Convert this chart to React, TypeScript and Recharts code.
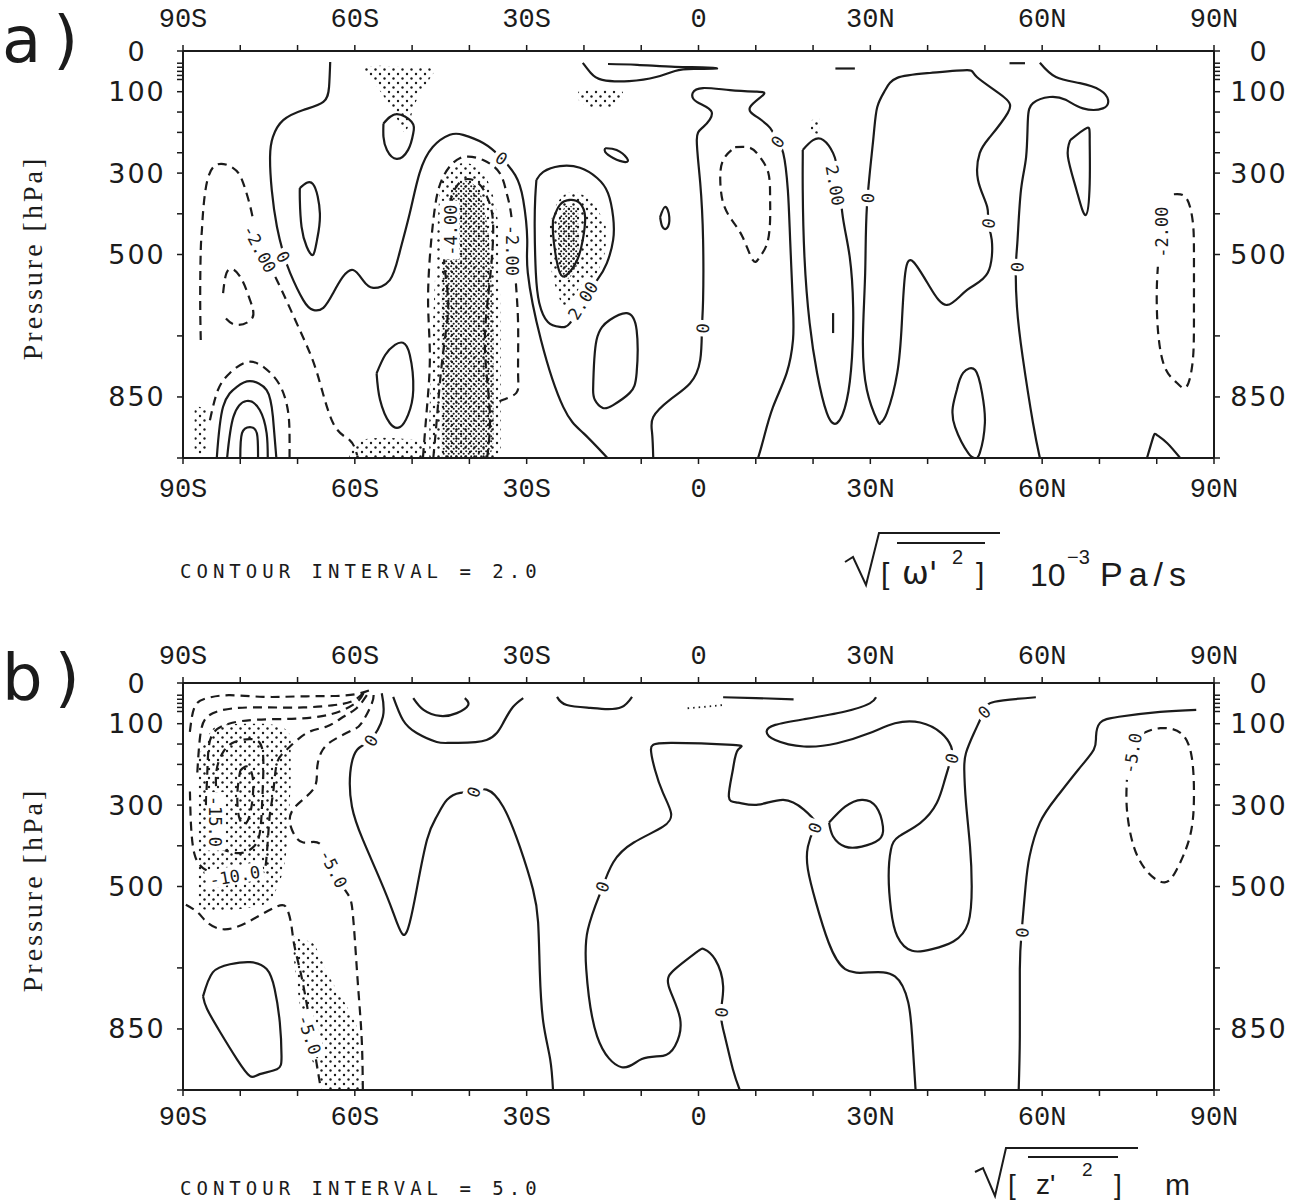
import React from "react";
import { ComposedChart, Line, Area, XAxis, YAxis, ReferenceDot } from "recharts";

// [latitude, pressure hPa]
type P = [number, number];
// [latitude, top pressure, bottom pressure]
type Band = [number, number, number];
type Lbl = { t: string; lat: number; p: number; rot: number };

const latTicks = [-90, -80, -70, -60, -50, -40, -30, -20, -10, 0, 10, 20, 30, 40, 50, 60, 70, 80, 90];
const latLabelValues = [-90, -60, -30, 0, 30, 60, 90];
const latLabelText = ["90S", "60S", "30S", "0", "30N", "60N", "90N"];
const pressureTicks = [0, 30, 40, 50, 60, 70, 100, 150, 200, 250, 300, 400, 500, 700, 850, 1000];
const pressureLabels = [0, 100, 300, 500, 850];

// ---------- panel a: sqrt([w'^2]) ----------
const omegaSolid: P[][] = [
  [[-64.3, 27], [-64.5, 88], [-65.5, 125], [-69.0, 145], [-72.5, 170], [-74.3, 211], [-74.8, 260], [-74.5, 342], [-73.6, 432], [-72.5, 496], [-71.3, 545], [-69.0, 612], [-67.3, 636], [-65.5, 631], [-63.8, 595], [-62.1, 555], [-60.3, 538], [-58.6, 563], [-56.8, 582], [-53.9, 563], [-52.2, 496], [-50.4, 398], [-48.7, 300], [-46.4, 236], [-43.4, 206], [-41.1, 206], [-37.6, 226], [-34.6, 260], [-32.0, 305], [-30.6, 366], [-29.9, 464], [-29.8, 545], [-27.5, 710], [-23.6, 875], [-20.1, 939], [-15.9, 1000]],
  [[-55.0, 178], [-52.7, 155], [-50.1, 174], [-49.8, 202], [-50.7, 243], [-52.7, 265], [-54.4, 243], [-55.0, 211], [-55.0, 178]],
  [[-69.6, 337], [-67.3, 327], [-66.1, 399], [-66.6, 464], [-67.3, 501], [-68.4, 481], [-69.3, 432], [-69.6, 366], [-69.6, 337]],
  [[-56.2, 792], [-54.7, 747], [-53.0, 722], [-51.6, 717], [-50.4, 747], [-49.8, 833], [-50.7, 894], [-52.1, 924], [-53.9, 914], [-55.6, 857], [-56.2, 792]],
  [[-84.1, 1000], [-83.0, 874], [-80.6, 825], [-78.3, 811], [-75.4, 833], [-74.3, 899], [-73.7, 1000]],
  [[-82.3, 1000], [-81.2, 899], [-78.9, 860], [-76.6, 882], [-75.4, 939], [-75.2, 1000]],
  [[-80.0, 1000], [-79.7, 939], [-78.3, 924], [-77.1, 939], [-76.9, 1000]],
  [[-28.3, 317], [-27.1, 297], [-24.2, 283], [-20.7, 287], [-17.7, 312], [-15.8, 349], [-14.9, 408], [-14.9, 464], [-16.0, 521], [-17.7, 563], [-20.2, 612], [-22.4, 668], [-24.2, 678], [-26.3, 666], [-27.8, 619], [-28.4, 545], [-28.6, 432], [-28.5, 359], [-28.3, 317]],
  [[-25.4, 415], [-24.2, 378], [-22.4, 366], [-20.7, 374], [-19.8, 408], [-20.2, 464], [-21.2, 514], [-23.0, 550], [-24.2, 545], [-25.0, 496], [-25.4, 447], [-25.4, 415]],
  [[-16.3, 239], [-14.3, 243], [-12.5, 263], [-12.8, 273], [-14.9, 263], [-16.3, 248], [-16.3, 239]],
  [[-6.7, 408], [-5.8, 383], [-5.1, 408], [-5.5, 435], [-6.3, 432], [-6.7, 408]],
  [[-18.4, 833], [-17.8, 710], [-15.5, 661], [-12.5, 644], [-10.8, 686], [-10.8, 791], [-12.0, 840], [-14.9, 870], [-16.7, 877], [-18.1, 857], [-18.4, 833]],
  [[-7.9, 1000], [-8.1, 939], [-7.9, 899], [-5.0, 857], [-1.5, 817], [0.3, 759], [0.6, 681], [0.8, 612], [0.8, 464], [0.3, 324], [-0.3, 219], [0.8, 187], [2.3, 150], [-0.3, 125], [-1.0, 103], [0.8, 91], [5.5, 96], [10.2, 100], [11.3, 108], [9.0, 138], [10.2, 162], [12.5, 189], [13.7, 219], [14.8, 251], [15.6, 342], [16.0, 464], [16.5, 629], [16.5, 710], [15.4, 791], [13.0, 875], [11.3, 956], [10.4, 1000]],
  [[-20.2, 29], [-18.8, 54], [-16.8, 71], [-12.1, 74], [-7.4, 64], [-4.1, 49], [-0.8, 44], [3.2, 43], [0.6, 40], [-4.1, 39], [-10.7, 34], [-15.8, 32]],
  [[23.9, 43], [27.3, 43]],
  [[54.3, 30], [57.0, 30]],
  [[18.2, 243], [20.0, 219], [21.8, 219], [23.5, 251], [24.4, 305], [25.2, 408], [26.4, 506], [27.0, 629], [26.8, 752], [25.9, 857], [24.2, 914], [22.4, 889], [20.7, 791], [19.4, 668], [18.5, 506], [18.2, 342], [18.2, 268], [18.2, 243]],
  [[23.5, 644], [23.5, 693]],
  [[31.7, 914], [31.2, 907], [29.4, 833], [28.7, 710], [29.1, 545], [29.4, 383], [30.5, 219], [31.2, 138], [32.6, 96], [34.7, 66], [40.4, 54], [46.9, 47], [48.6, 64], [53.3, 113], [54.0, 152], [50.9, 211], [49.1, 251], [48.8, 317], [50.4, 383], [50.5, 423], [51.2, 464], [50.5, 545], [46.9, 587], [43.4, 624], [40.4, 580], [37.5, 518], [36.1, 545], [35.5, 668], [34.7, 791], [32.9, 889], [31.7, 914]],
  [[59.6, 29], [62.4, 64], [66.6, 79], [70.1, 96], [71.5, 120], [70.6, 141], [67.1, 141], [64.1, 120], [61.3, 113], [58.4, 128], [57.5, 170], [57.2, 260], [56.3, 342], [55.7, 464], [55.4, 531], [55.6, 629], [56.6, 752], [58.4, 914], [59.6, 1000]],
  [[64.9, 219], [67.8, 189], [68.3, 219], [68.3, 325], [67.6, 403], [66.0, 342], [64.5, 260], [64.9, 219]],
  [[45.1, 833], [46.2, 791], [48.3, 784], [49.5, 840], [50.0, 914], [49.1, 988], [48.3, 1000], [47.1, 988], [44.8, 924], [44.4, 875], [45.1, 833]],
  [[78.3, 1000], [79.4, 948], [80.0, 943], [81.8, 963], [84.1, 1000]],
];

const omegaDashed: P[][] = [
  [[-86.9, 710], [-87.0, 604], [-86.9, 489], [-86.7, 440], [-86.3, 366], [-84.7, 285], [-81.3, 287], [-79.5, 324], [-78.0, 398], [-77.1, 464], [-75.7, 509], [-73.6, 563], [-69.6, 686], [-66.6, 791], [-63.8, 914], [-60.9, 956], [-59.6, 993]],
  [[-83.0, 595], [-82.1, 538], [-80.0, 555], [-78.3, 612], [-77.9, 656], [-80.6, 673], [-82.7, 654]],
  [[-85.3, 907], [-83.9, 833], [-81.8, 791], [-78.7, 764], [-75.7, 779], [-73.1, 821], [-71.7, 882], [-71.4, 943], [-71.4, 1000]],
  [[-48.1, 998], [-47.4, 875], [-46.9, 752], [-47.2, 629], [-46.9, 506], [-46.0, 383], [-44.6, 310], [-41.6, 263], [-37.6, 268], [-34.7, 300], [-33.5, 349], [-32.6, 415], [-32.0, 545], [-31.5, 668], [-31.5, 791], [-31.8, 840], [-34.1, 857], [-35.2, 865]],
  [[-46.3, 1000], [-45.7, 907], [-45.1, 808], [-44.3, 710], [-43.7, 612], [-44.4, 514], [-43.9, 415], [-43.0, 354], [-41.1, 317], [-38.5, 324], [-36.9, 359], [-35.9, 415], [-36.1, 514], [-36.8, 612], [-37.3, 710], [-36.9, 808], [-36.4, 907], [-36.9, 1000]],
  [[6.4, 236], [9.0, 238], [10.7, 260], [12.2, 300], [12.5, 359], [12.5, 415], [12.0, 472], [10.7, 506], [9.5, 514], [7.7, 457], [5.8, 415], [4.3, 373], [3.8, 317], [4.3, 268], [6.4, 236]],
  [[83.0, 352], [85.2, 362], [86.3, 420], [86.5, 500], [86.5, 650], [86.3, 760], [85.2, 825], [83.5, 815], [81.5, 780], [80.3, 700], [80.0, 600], [80.2, 530]],
];

const omegaSparse: Band[][] = [
  [[-58.5, 38, 48], [-55.5, 36, 100], [-52.5, 38, 170], [-51.3, 40, 200], [-49.5, 40, 130], [-47, 42, 70], [-46.3, 45, 55]],
  [[-47, 900, 1000], [-46, 560, 1000], [-45, 330, 1000], [-43.5, 290, 1000], [-41, 275, 1000], [-38.5, 285, 1000], [-36.5, 330, 1000], [-35, 420, 1000], [-34.5, 700, 980]],
  [[-61, 985, 1000], [-59, 955, 1000], [-55, 950, 1000], [-50, 955, 1000], [-47.5, 960, 1000]],
  [[-26, 430, 520], [-24.5, 370, 600], [-22, 345, 650], [-20, 355, 625], [-18, 380, 560], [-16.2, 430, 490]],
  [[-21, 100, 120], [-19, 96, 138], [-16, 96, 140], [-13.2, 100, 118]],
  [[19.6, 170, 200], [21.2, 165, 205]],
  [[-88, 870, 990], [-86, 880, 990]],
];

const omegaDense: Band[][] = [
  [[-44.8, 560, 1000], [-43.8, 380, 1000], [-42.5, 330, 1000], [-40.5, 320, 1000], [-38.5, 340, 1000], [-37.2, 400, 1000], [-36.3, 520, 990], [-35.8, 700, 960]],
  [[-24.5, 420, 520], [-23, 380, 560], [-21, 385, 520]],
];

const omegaLabels: Lbl[] = [
  { t: "-2.00", lat: -76.5, p: 485, rot: 62 },
  { t: "0", lat: -72.4, p: 505, rot: 60 },
  { t: "0", lat: -34.3, p: 262, rot: 35 },
  { t: "-4.00", lat: -43.3, p: 440, rot: -90 },
  { t: "-2.00", lat: -32.3, p: 490, rot: 90 },
  { t: "2.00", lat: -20.3, p: 612, rot: -58 },
  { t: "0", lat: 0.6, p: 681, rot: -85 },
  { t: "0", lat: 13.7, p: 222, rot: -55 },
  { t: "2.00", lat: 24.0, p: 330, rot: 80 },
  { t: "0", lat: 29.4, p: 361, rot: -85 },
  { t: "0", lat: 50.5, p: 423, rot: -80 },
  { t: "0", lat: 55.5, p: 531, rot: -85 },
  { t: "-2.00", lat: 80.8, p: 445, rot: -90 },
];

// ---------- panel b: sqrt([z'^2]) ----------
const zSolid: P[][] = [
  [[-86.5, 770], [-84.8, 711], [-81.8, 691], [-78.3, 686], [-75.4, 703], [-74.0, 752], [-73.1, 834], [-72.8, 917], [-73.6, 949], [-76.6, 961], [-78.3, 966], [-80.6, 924], [-83.5, 858], [-85.8, 801], [-86.5, 770]],
  [[-55.3, 25], [-55.1, 83], [-57.3, 140], [-59.6, 164], [-60.8, 221], [-60.5, 304], [-58.6, 385], [-55.6, 483], [-53.3, 564], [-51.6, 618], [-50.4, 588], [-49.2, 507], [-47.4, 385], [-45.7, 328], [-43.9, 287], [-41.6, 270], [-39.4, 267], [-37.0, 262], [-34.1, 304], [-31.2, 402], [-28.9, 507], [-28.0, 588], [-27.7, 711], [-27.1, 833], [-25.9, 924], [-25.4, 1000]],
  [[-53.3, 34], [-51.6, 91], [-49.2, 123], [-45.7, 145], [-42.8, 147], [-37.0, 140], [-34.1, 98], [-32.4, 59], [-30.6, 37]],
  [[-49.8, 37], [-48.0, 66], [-45.1, 81], [-42.2, 74], [-40.2, 54], [-40.8, 37]],
  [[-24.7, 34], [-23.0, 54], [-18.9, 61], [-16.3, 64], [-13.4, 59], [-11.6, 34]],
  [[4.3, 35], [10, 37], [16.6, 40]],
  [[31.0, 35], [29.9, 50], [25.6, 70], [18.4, 89], [13.4, 103], [11.9, 119], [13.4, 140], [18.4, 156], [24.2, 148], [29.9, 123], [34.3, 99], [38.7, 97], [42.4, 123], [44.1, 156], [44.1, 185], [43.0, 238], [41.6, 295], [38.7, 344], [35.0, 377], [33.6, 409], [33.2, 474], [33.6, 556], [34.7, 622], [37.3, 658], [40.8, 654], [44.5, 635], [47.1, 589], [47.7, 499], [47.4, 401], [46.7, 294], [46.4, 213], [46.7, 172], [48.1, 123], [49.8, 70], [51.7, 46], [58.9, 35]],
  [[22.8, 343], [25.6, 304], [28.5, 287], [31.0, 304], [32.2, 353], [31.5, 385], [28.5, 402], [25.6, 402], [23.5, 377], [22.8, 343]],
  [[7.2, 1000], [6.0, 949], [4.6, 868], [3.9, 809], [4.3, 745], [2.9, 679], [1.0, 654], [-0.4, 662], [-4.1, 703], [-5.2, 745], [-3.2, 826], [-4.1, 892], [-6.2, 916], [-9.9, 924], [-13.4, 944], [-17.7, 868], [-19.6, 703], [-19.3, 605], [-17.4, 525], [-16.7, 500], [-14.9, 441], [-11.3, 392], [-6.2, 353], [-4.8, 319], [-6.2, 270], [-7.6, 213], [-8.3, 164], [-7.9, 152], [-4.8, 147], [6.0, 152], [6.9, 164], [6.0, 213], [5.3, 279], [6.9, 294], [10.4, 299], [14.8, 287], [18.4, 311], [20.5, 343], [20.2, 360], [19.1, 402], [19.1, 458], [20.5, 539], [22.7, 637], [25.6, 703], [29.9, 711], [34.3, 721], [36.6, 784], [37.3, 868], [37.9, 1000]],
  [[86.9, 66], [80.6, 71], [73.4, 83], [70.1, 98], [69.4, 132], [69.0, 164], [66.3, 213], [62.6, 279], [59.6, 343], [57.8, 426], [57.1, 500], [56.4, 613], [56.1, 703], [56.1, 868], [55.9, 1000]],
];

const zDashed: P[][] = [
  [[77.7, 123], [80.6, 111], [84.2, 123], [86.1, 181], [86.5, 279], [85.8, 377], [83.5, 458], [81.4, 490], [78.5, 466], [76.0, 402], [74.8, 311], [74.8, 238]],
  [[-58.6, 1000], [-58.8, 875], [-59.4, 752], [-60.0, 630], [-60.5, 549], [-61.4, 515], [-63.8, 458], [-66.1, 395], [-69.0, 392], [-71.0, 360], [-70.8, 311], [-67.3, 262], [-66.6, 213], [-65.6, 164], [-63.1, 135], [-60.3, 115], [-58.8, 98], [-57.0, 49], [-56.8, 20]],
  [[-89.5, 545], [-87.4, 564], [-85.8, 588], [-83.0, 605], [-78.8, 588], [-73.6, 549], [-71.8, 556], [-71.1, 593], [-70.6, 642], [-69.6, 703], [-68.7, 765], [-67.8, 838], [-66.8, 924], [-65.9, 1000]],
  [[-88.8, 120], [-88, 60], [-86, 38], [-82, 30], [-76, 34], [-70, 33], [-64, 32], [-60, 28], [-57.5, 18]],
  [[-87.5, 220], [-87, 130], [-85.5, 80], [-81, 62], [-75, 60], [-69, 60], [-64, 55], [-60.5, 45], [-58.3, 22]],
  [[-86, 300], [-85.7, 200], [-85, 130], [-82, 100], [-77, 90], [-71, 88], [-66, 82], [-62.3, 68], [-59.5, 45], [-58.5, 25]],
  [[-57.9, 30], [-59.7, 62], [-62.0, 83], [-64.9, 107], [-68.4, 123], [-71.9, 164], [-73.6, 197], [-74.2, 262], [-74.8, 319], [-75.1, 368], [-75.4, 426], [-76.0, 466], [-78.5, 478], [-83.5, 470], [-86.5, 455], [-88, 420], [-88.6, 350], [-88.8, 260]],
  [[-84, 290], [-84.2, 220], [-83, 170], [-81, 145], [-78, 138], [-76.2, 160], [-76, 230], [-76.2, 300], [-76.5, 360], [-77.5, 400], [-80, 418], [-82.5, 412], [-83.8, 398], [-84.3, 350], [-84, 290]],
  [[-80, 215], [-78.8, 205], [-77.8, 235], [-78, 300], [-79, 345], [-80.2, 330], [-80.5, 270], [-80, 215]],
];

const zDotted: P[][] = [
  [[-1.9, 62], [1.5, 58], [4.3, 54]],
];

const zSparse: Band[][] = [
  [[-87.5, 190, 550], [-86, 140, 558], [-84, 105, 560], [-80, 100, 555], [-76, 100, 545], [-73.5, 105, 500], [-72, 115, 420], [-71.2, 130, 250]],
  [[-70.7, 622, 672], [-70.0, 628, 752], [-69.1, 632, 833], [-67.7, 635, 917], [-66.4, 660, 960], [-65.2, 700, 1000], [-62.9, 760, 1000], [-61.2, 800, 1000], [-59.4, 860, 1000], [-58.9, 930, 1000]],
];

const zLabels: Lbl[] = [
  { t: "0", lat: -57.3, p: 140, rot: -60 },
  { t: "0", lat: -39.4, p: 267, rot: -70 },
  { t: "-5.0", lat: -63.6, p: 455, rot: 63 },
  { t: "-15.0", lat: -84.2, p: 340, rot: 90 },
  { t: "-10.0", lat: -81.0, p: 472, rot: -10 },
  { t: "-5.0", lat: -67.8, p: 863, rot: 72 },
  { t: "0", lat: -16.9, p: 500, rot: -70 },
  { t: "0", lat: 3.9, p: 809, rot: -85 },
  { t: "0", lat: 20.2, p: 355, rot: -70 },
  { t: "0", lat: 44.1, p: 185, rot: -75 },
  { t: "0", lat: 49.8, p: 70, rot: -45 },
  { t: "0", lat: 56.4, p: 613, rot: -85 },
  { t: "-5.0", lat: 75.6, p: 172, rot: -80 },
];

const INK = "#1b1b1b";

const toRows = (pts: P[]) => pts.map(([lat, p]) => ({ lat, p }));
const toBand = (b: Band[]) => b.map(([lat, a, c]) => ({ lat, r: [a, c] }));

const labelShape = (t: string, rot: number) => (props: any) => {
  const w = t.length * 10.5 + 6;
  return (
    <g transform={`translate(${props.cx},${props.cy}) rotate(${rot})`}>
      <rect x={-w / 2} y={-9} width={w} height={18} fill="#fff" />
      <text x={0} y={1} textAnchor="middle" dominantBaseline="central" fontFamily="DejaVu Sans Mono" fontSize={17} fill={INK}>
        {t}
      </text>
    </g>
  );
};

type PanelProps = {
  top: number;
  solid: P[][];
  dashed: P[][];
  dotted: P[][];
  sparse: Band[][];
  dense: Band[][];
  labels: Lbl[];
  topY: number;
  bottomY: number;
};

const Panel = ({ top, solid, dashed, dotted, sparse, dense, labels, topY, bottomY }: PanelProps) => {
  const latTick = (y: number) => (props: any) => {
    const i = latLabelValues.indexOf(props.payload.value);
    if (i < 0) return <g />;
    return (
      <text x={props.x} y={y} textAnchor="middle" dominantBaseline="central" fontFamily="Liberation Mono" fontSize={27} fill={INK}>
        {latLabelText[i]}
      </text>
    );
  };
  const pTick = (x: number) => (props: any) => {
    const v = props.payload.value;
    if (!pressureLabels.includes(v)) return <g />;
    return (
      <text x={x} y={props.y} textAnchor="middle" dominantBaseline="central" fontFamily="DejaVu Sans" fontSize={27} letterSpacing={2} fill={INK}>
        {v}
      </text>
    );
  };
  const axisLine = { stroke: INK, strokeWidth: 2 };
  const tickLine = { stroke: INK, strokeWidth: 1.5 };

  return (
    <div style={{ position: "absolute", left: 0, top }}>
      <ComposedChart width={1308} height={520} margin={{ top: 21, right: 34, bottom: 32, left: 123 }}>
        <XAxis xAxisId="b" dataKey="lat" type="number" domain={[-90, 90]} ticks={latTicks} interval={0} allowDataOverflow orientation="bottom" height={30} tickSize={6} axisLine={axisLine} tickLine={tickLine} tick={latTick(bottomY)} />
        <XAxis xAxisId="t" dataKey="lat" type="number" domain={[-90, 90]} ticks={latTicks} interval={0} allowDataOverflow orientation="top" height={30} tickSize={6} axisLine={axisLine} tickLine={tickLine} tick={latTick(topY)} />
        <YAxis yAxisId="l" type="number" domain={[0, 1000]} reversed ticks={pressureTicks} interval={0} allowDataOverflow width={60} tickSize={6} axisLine={axisLine} tickLine={tickLine} tick={pTick(137)} />
        <YAxis yAxisId="r" orientation="right" type="number" domain={[0, 1000]} reversed ticks={pressureTicks} interval={0} allowDataOverflow width={60} tickSize={6} axisLine={axisLine} tickLine={tickLine} tick={pTick(1259)} />

        {sparse.map((b, i) => (
          <Area key={`s${i}`} xAxisId="b" yAxisId="l" data={toBand(b)} dataKey="r" type="monotone" stroke="none" fill="url(#dotSparse)" fillOpacity={1} dot={false} activeDot={false} isAnimationActive={false} />
        ))}
        {dense.map((b, i) => (
          <Area key={`d${i}`} xAxisId="b" yAxisId="l" data={toBand(b)} dataKey="r" type="monotone" stroke="none" fill="url(#dotDense)" fillOpacity={1} dot={false} activeDot={false} isAnimationActive={false} />
        ))}
        {solid.map((c, i) => (
          <Line key={`l${i}`} xAxisId="b" yAxisId="l" data={toRows(c)} dataKey="p" type="natural" stroke={INK} strokeWidth={2.2} dot={false} activeDot={false} isAnimationActive={false} />
        ))}
        {dashed.map((c, i) => (
          <Line key={`n${i}`} xAxisId="b" yAxisId="l" data={toRows(c)} dataKey="p" type="natural" stroke={INK} strokeWidth={2.2} strokeDasharray="9 6" dot={false} activeDot={false} isAnimationActive={false} />
        ))}
        {dotted.map((c, i) => (
          <Line key={`o${i}`} xAxisId="b" yAxisId="l" data={toRows(c)} dataKey="p" type="natural" stroke={INK} strokeWidth={1.8} strokeDasharray="1.5 4" dot={false} activeDot={false} isAnimationActive={false} />
        ))}
        {labels.map((l, i) => (
          <ReferenceDot key={`t${i}`} xAxisId="b" yAxisId="l" x={l.lat} y={l.p} r={1} ifOverflow="visible" shape={labelShape(l.t, l.rot)} />
        ))}
      </ComposedChart>
    </div>
  );
};

const Overlay = () => (
  <svg width={1308} height={1204} style={{ position: "absolute", left: 0, top: 0, pointerEvents: "none" }}>
    <defs>
      <pattern id="dotSparse" width={9} height={9} patternUnits="userSpaceOnUse">
        <circle cx={2} cy={2} r={1.2} fill={INK} />
        <circle cx={6.5} cy={6.5} r={1.2} fill={INK} />
      </pattern>
      <pattern id="dotDense" width={5} height={5} patternUnits="userSpaceOnUse">
        <circle cx={1.2} cy={1.2} r={1.05} fill={INK} />
        <circle cx={3.7} cy={3.7} r={1.05} fill={INK} />
      </pattern>
    </defs>
    <g fill={INK}>
      <text x={2} y={62} fontFamily="DejaVu Sans" fontSize={64} letterSpacing={12}>a)</text>
      <text x={2} y={700} fontFamily="DejaVu Sans" fontSize={64} letterSpacing={12}>b)</text>
      <text transform="translate(42,258) rotate(-90)" textAnchor="middle" fontFamily="Liberation Serif" fontSize={28} letterSpacing={3}>Pressure [hPa]</text>
      <text transform="translate(42,890) rotate(-90)" textAnchor="middle" fontFamily="Liberation Serif" fontSize={28} letterSpacing={3}>Pressure [hPa]</text>
      <text x={180} y={578} fontFamily="DejaVu Sans Mono" fontSize={19} letterSpacing={5}>CONTOUR INTERVAL = 2.0</text>
      <text x={180} y={1195} fontFamily="DejaVu Sans Mono" fontSize={19} letterSpacing={5}>CONTOUR INTERVAL = 5.0</text>

      <path d="M 845 562 L 853 557 L 866 585 L 879 533 L 1000 533" fill="none" stroke={INK} strokeWidth={2} />
      <line x1={897} y1={543} x2={985} y2={543} stroke={INK} strokeWidth={2} />
      <text x={881} y={584} fontFamily="Liberation Sans" fontSize={30}>[</text>
      <text x={902} y={584} fontFamily="DejaVu Sans" fontSize={32}>ω'</text>
      <text x={952} y={564} fontFamily="Liberation Sans" fontSize={20}>2</text>
      <text x={976} y={584} fontFamily="Liberation Sans" fontSize={30}>]</text>
      <text x={1030} y={586} fontFamily="Liberation Sans" fontSize={32}>10</text>
      <text x={1067} y={564} fontFamily="Liberation Sans" fontSize={20}>−3</text>
      <text x={1100} y={586} fontFamily="Liberation Sans" fontSize={34} letterSpacing={6}>Pa/s</text>

      <path d="M 975 1172 L 983 1168 L 995 1196 L 1006 1148 L 1138 1148" fill="none" stroke={INK} strokeWidth={2} />
      <line x1={1028} y1={1157} x2={1118} y2={1157} stroke={INK} strokeWidth={2} />
      <text x={1008} y={1194} fontFamily="Liberation Sans" fontSize={28}>[</text>
      <text x={1036} y={1194} fontFamily="Liberation Sans" fontSize={28}>z'</text>
      <text x={1082} y={1176} fontFamily="Liberation Sans" fontSize={19}>2</text>
      <text x={1114} y={1194} fontFamily="Liberation Sans" fontSize={28}>]</text>
      <text x={1165} y={1195} fontFamily="Liberation Sans" fontSize={30}>m</text>
    </g>
  </svg>
);

export default function App() {
  return (
    <div style={{ position: "absolute", left: 0, top: 0, width: 1308, height: 1204 }}>
      <Panel top={0} solid={omegaSolid} dashed={omegaDashed} dotted={[]} sparse={omegaSparse} dense={omegaDense} labels={omegaLabels} topY={20} bottomY={490} />
      <Panel top={632} solid={zSolid} dashed={zDashed} dotted={zDotted} sparse={zSparse} dense={[]} labels={zLabels} topY={25} bottomY={486} />
      <Overlay />
    </div>
  );
}
